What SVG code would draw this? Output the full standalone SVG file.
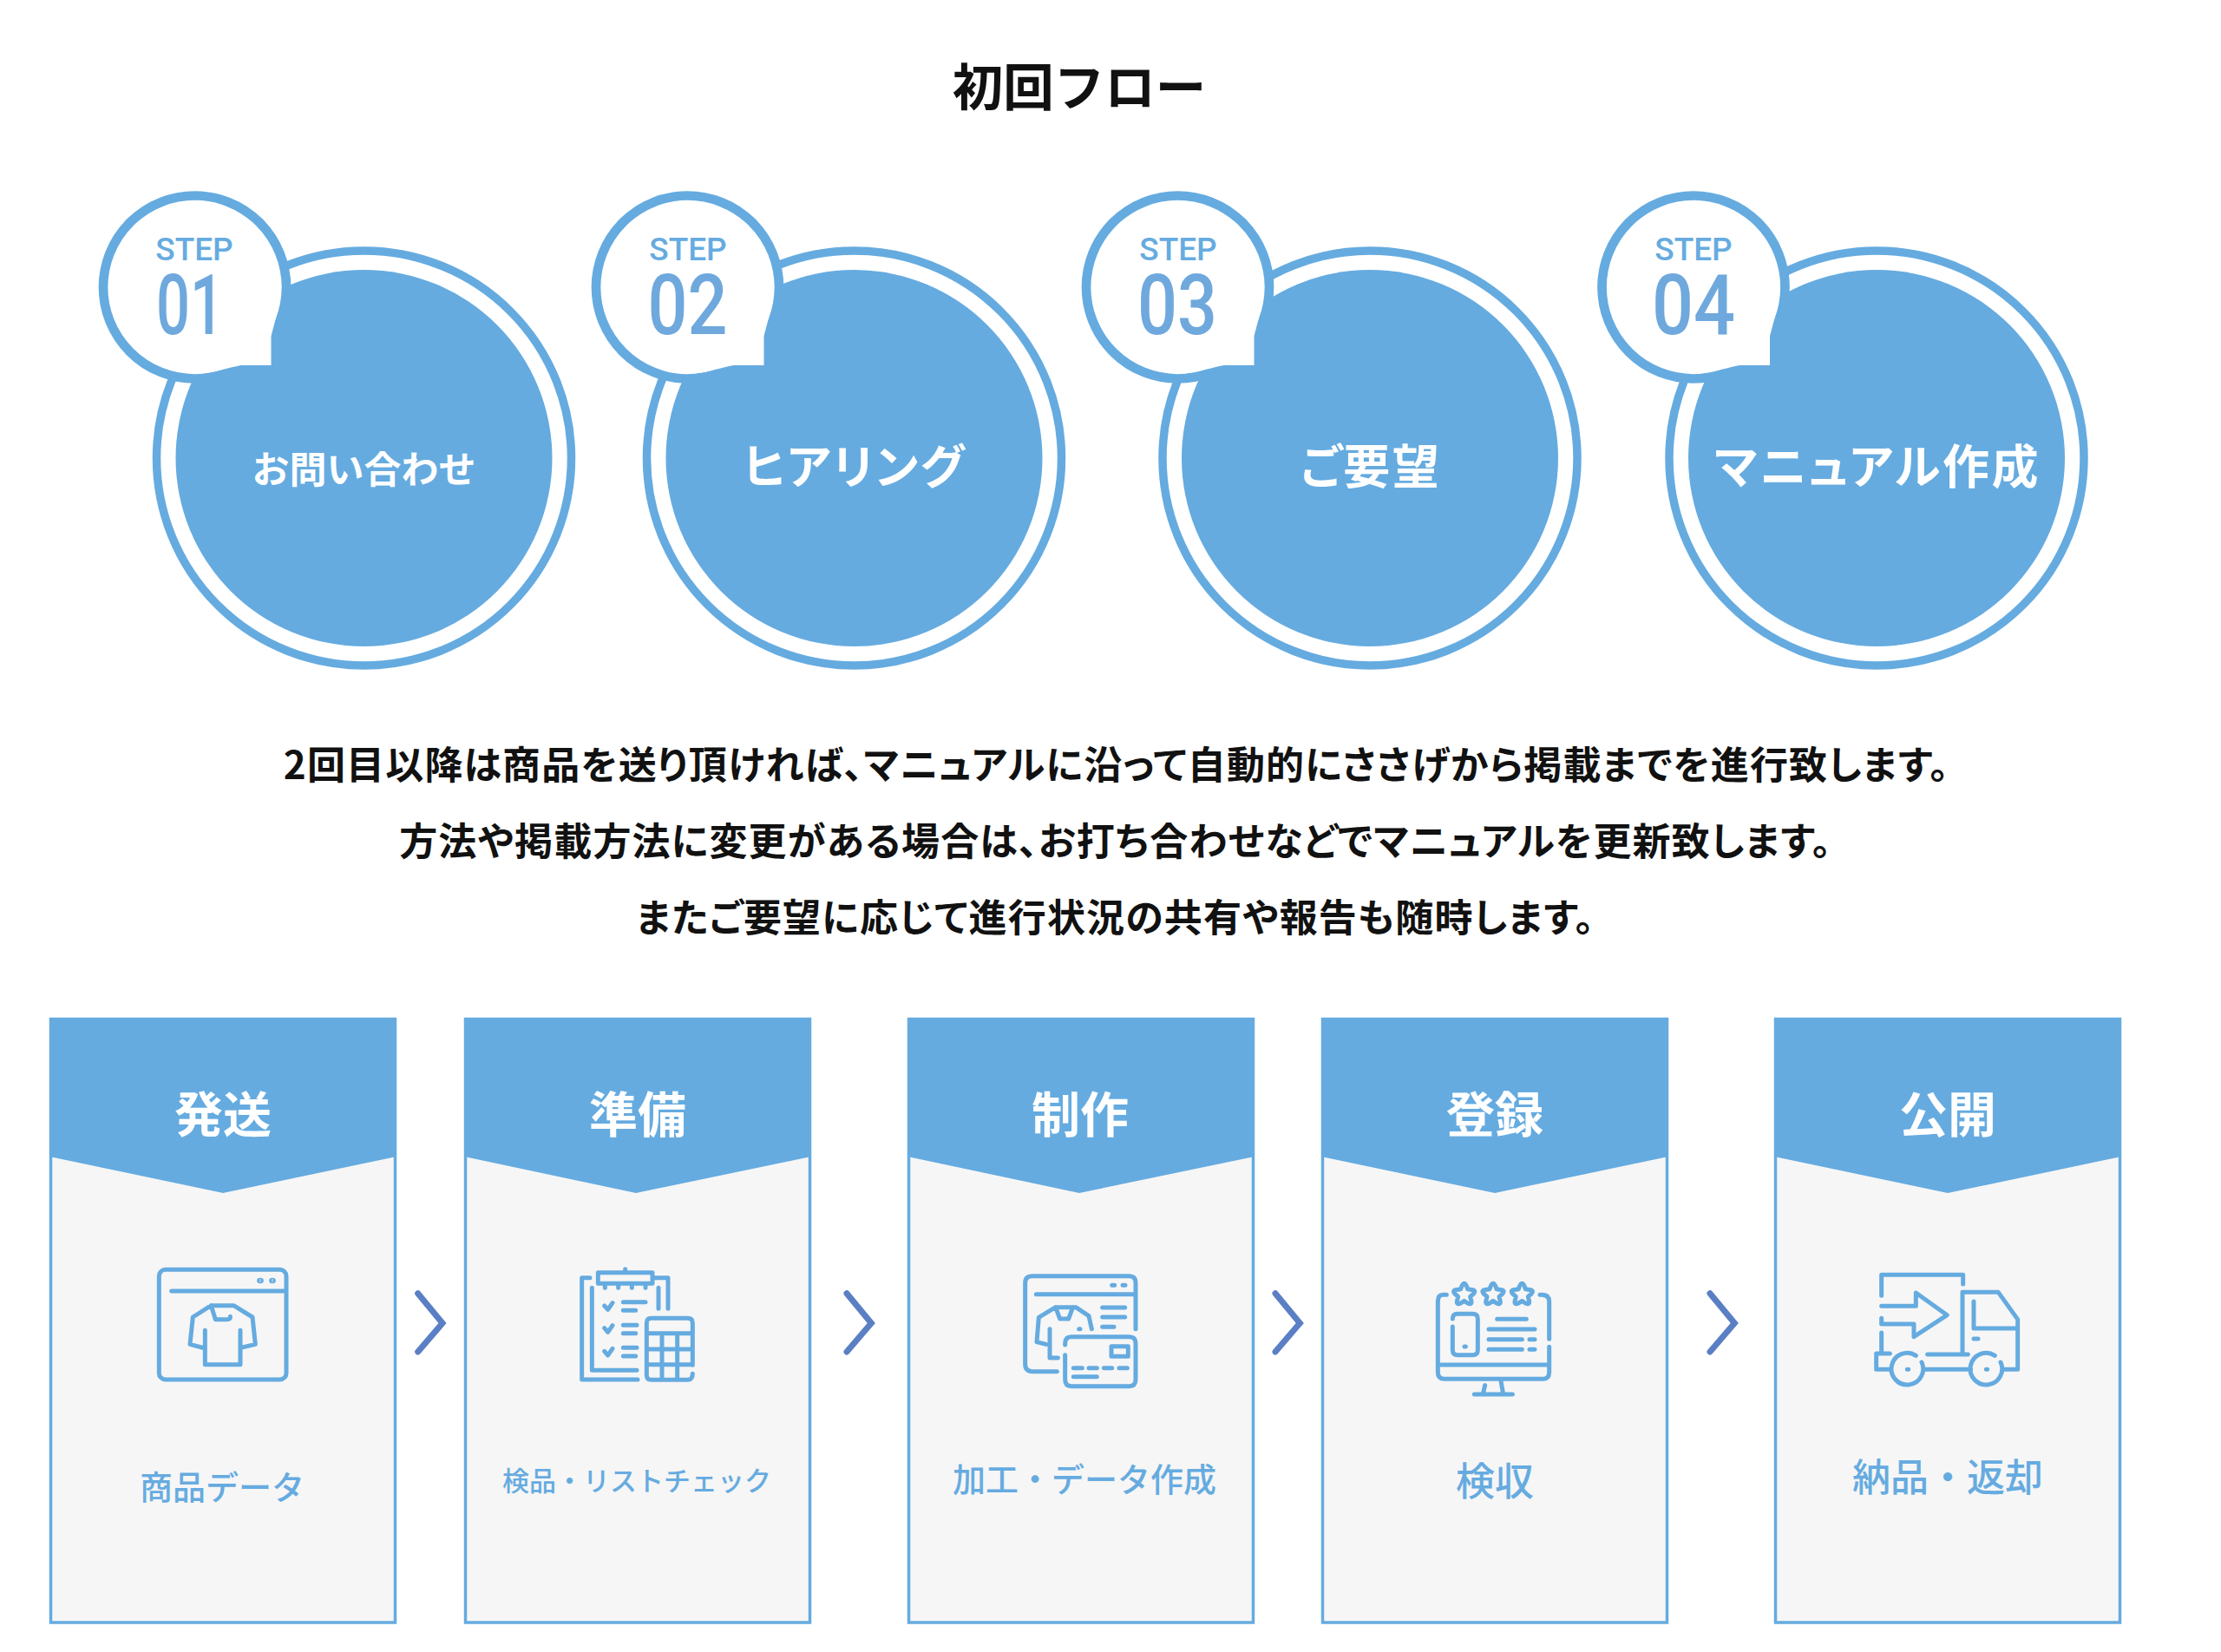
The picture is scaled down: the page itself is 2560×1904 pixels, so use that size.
<svg xmlns="http://www.w3.org/2000/svg" width="2560" height="1904" viewBox="0 0 2560 1904">
<style>
text{font-family:"Noto Sans CJK JP","Noto Sans",sans-serif;text-anchor:middle}
.title{font-size:58.5px;font-weight:700;fill:#111}
.para{font-size:44px;font-weight:700;fill:#111;letter-spacing:1.15px;font-feature-settings:"palt"}
.lab{fill:#fff;font-weight:700}
.kana{font-feature-settings:"palt";letter-spacing:2.5px}
.head{fill:#fff;font-size:56px;font-weight:700}
.sub{fill:#66abe0;font-weight:500}
.step{font-family:Roboto,sans-serif;font-size:37px;font-weight:500;fill:#66abe0}
.num{font-family:Roboto,sans-serif;font-size:97px;fill:#6fa8dc;font-weight:500}
.disc{fill:#65abe0}
.bub{fill:#fff;stroke:#65abe0;stroke-width:10.7}
.tail{fill:#fff}
.card{fill:#f6f6f6;stroke:#65abe0;stroke-width:3.5}
.ban{fill:#65abe0}
.ic{fill:none;stroke:#65abe0;stroke-width:15;stroke-linecap:round;stroke-linejoin:round}
.dot{fill:#65abe0}
.chev{fill:none;stroke:#5b7fc4;stroke-width:7;stroke-linecap:round;stroke-linejoin:miter}
</style>
<defs>
<g id="bubble">
<circle class="bub" r="105.5"/>
<path class="tail" d="M99.8 -2C99 20 92 40 88 56.5V90H53C30 95 15 100 -2 100L-30 60L40 -40Z"/>
</g>
<g id="star"><path d="M0 -34C5 -34 7 -28 10 -21L12 -15L30 -12C38 -10 38 -4 33 1L21 11L25 28C26 36 20 38 14 35L0 26L-14 35C-20 38 -26 36 -25 28L-21 11L-33 1C-38 -4 -38 -10 -30 -12L-12 -15L-10 -21C-7 -28 -5 -34 0 -34Z"/></g>
</defs>
<text class="title" x="1244" y="122">初回フロー</text>

<g id="step1"><circle class="disc" cx="419.5" cy="528" r="217"/><circle cx="419.5" cy="528" r="239" fill="none" stroke="#65abe0" stroke-width="9.5"/>
<use href="#bubble" x="224.5" y="331"/>
<text class="step" x="224" y="300">STEP</text><text class="num" x="219" y="385" textLength="78" lengthAdjust="spacingAndGlyphs">01</text>
<text class="lab" x="419.5" y="557" font-size="43">お問い合わせ</text></g>

<g id="step2"><circle class="disc" cx="984.5" cy="528" r="217"/><circle cx="984.5" cy="528" r="239" fill="none" stroke="#65abe0" stroke-width="9.5"/>
<use href="#bubble" x="792.5" y="331"/>
<text class="step" x="793" y="300">STEP</text><text class="num" x="792.5" y="385" textLength="92" lengthAdjust="spacingAndGlyphs">02</text>
<text class="lab kana" x="985.5" y="558" font-size="54">ヒアリング</text></g>

<g id="step3"><circle class="disc" cx="1579" cy="528" r="217"/><circle cx="1579" cy="528" r="239" fill="none" stroke="#65abe0" stroke-width="9.5"/>
<use href="#bubble" x="1357.5" y="331"/>
<text class="step" x="1358" y="300">STEP</text><text class="num" x="1357" y="385" textLength="92" lengthAdjust="spacingAndGlyphs">03</text>
<text class="lab kana" x="1580" y="558" font-size="54">ご要望</text></g>

<g id="step4"><circle class="disc" cx="2163" cy="528" r="217"/><circle cx="2163" cy="528" r="239" fill="none" stroke="#65abe0" stroke-width="9.5"/>
<use href="#bubble" x="1952" y="331"/>
<text class="step" x="1952" y="300">STEP</text><text class="num" x="1952" y="385" textLength="96" lengthAdjust="spacingAndGlyphs">04</text>
<text class="lab kana" x="2164" y="558" font-size="54">マニュアル作成</text></g>

<text class="para" x="1287" y="898">2回目以降は商品を送り頂ければ、マニュアルに沿って自動的にささげから掲載までを進行致します。</text>
<text class="para" x="1286" y="986">方法や掲載方法に変更がある場合は、お打ち合わせなどでマニュアルを更新致します。</text>
<text class="para" x="1286" y="1074">またご要望に応じて進行状況の共有や報告も随時します。</text>

<g id="card1"><rect class="card" x="58.5" y="1174.5" width="397" height="695.5"/><path class="ban" d="M57 1175Q57 1173 59 1173H455Q457 1173 457 1175V1333L257 1375L57 1333Z"/>
<text class="head" x="257" y="1305">発送</text>
<g transform="translate(160 1430) scale(.33333)" class="ic"><rect x="70" y="100" width="440" height="380" rx="22"/><path d="M113 174H505M229 310V428H351V310M229 372L177 358L187 264L250 224H328L393 264L403 358L352 370M250 224L265 272H305Q318 272 316 262"/><ellipse class="dot" cx="420" cy="138" rx="4" ry="2"/><ellipse class="dot" cx="462" cy="138" rx="4" ry="2"/></g>
<text class="sub" x="256" y="1728" font-size="38">商品データ</text></g>

<g id="card2"><rect class="card" x="536.5" y="1174.5" width="397" height="695.5"/><path class="ban" d="M535 1175Q535 1173 537 1173H933Q935 1173 935 1175V1333L733 1375L535 1333Z"/>
<text class="head" x="735" y="1305">準備</text>
<g transform="translate(650 1440) scale(.33333)" class="ic"><path d="M90 98H62V450H255M97 133V418H252M315 98H360V205M327 133V205M118 80H306V118H118ZM212 68V78M142 125V133M188 125V133M235 125V133M282 125V133M140 195L152 208L168 185M140 272L152 286L168 263M140 352L152 366L168 343M205 182H282M205 211H248M205 262H252M205 290H248M205 340H252M205 369H248M445 400V255Q445 238 428 238H302Q286 238 286 255V435Q286 451 302 451H428Q445 451 445 430M286 290H445M286 345H445M286 398H445M339 290V451M392 290V451"/></g>
<text class="sub" x="734" y="1718" font-size="31">検品・リストチェック</text></g>

<g id="card3"><rect class="card" x="1047.5" y="1174.5" width="397" height="695.5"/><path class="ban" d="M1046 1175Q1046 1173 1048 1173H1444Q1446 1173 1446 1175V1333L1244 1375L1046 1333Z"/>
<text class="head" x="1245" y="1305">制作</text>
<g transform="translate(1160 1450) scale(.33333)" class="ic"><path d="M175 392H90Q65 392 65 367V85Q65 62 90 62H425Q447 62 447 85V245M103 125H447M150 245V345H178M105 290L137 298M105 290L112 205L170 170H240L285 200L295 245M170 170L185 210H215L230 170M332 171H410M332 204H410M332 238H372M203 335V420Q203 443 225 443H425Q447 443 447 420V295Q447 272 425 272H225Q203 272 203 295V300M363 305H421V340H363ZM232 380H262M285 380H313M337 380H365M390 380H418M232 410H313M365 94H374M402 94H411M251 245H255"/></g>
<text class="sub" x="1250" y="1719" font-size="38">加工・データ作成</text></g>

<g id="card4"><rect class="card" x="1524.5" y="1174.5" width="397" height="695.5"/><path class="ban" d="M1523 1175Q1523 1173 1525 1173H1921Q1923 1173 1923 1175V1333L1723 1375L1523 1333Z"/>
<text class="head" x="1723" y="1305">登録</text>
<g transform="translate(1640 1450) scale(.33333)" class="ic"><path d="M82 127H70Q52 127 52 150V395Q52 418 75 418H415Q437 418 437 395V307M437 280V150Q437 127 410 127H405M52 369H437M215 440L208 470M270 425L278 470M178 471H310M103 237V318Q103 335 120 335H172Q190 335 190 318V210Q190 193 172 193H120Q103 193 103 210M257 211H358M228 246H387M228 281H343M369 281H387M228 316H343M369 316H387M144 306H148"/><use href="#star" x="143" y="122"/><use href="#star" x="243" y="122"/><use href="#star" x="343" y="122"/></g>
<text class="sub" x="1723" y="1724" font-size="45">検収</text></g>

<g id="card5"><rect class="card" x="2046.5" y="1174.5" width="397" height="695.5"/><path class="ban" d="M2045 1175Q2045 1173 2047 1173H2443Q2445 1173 2445 1175V1333L2245 1375L2045 1333Z"/>
<text class="head" x="2245" y="1305">公開</text>
<g transform="translate(2150 1450) scale(.33333)" class="ic"><path d="M338 90V58H56V130M56 258V330M38 330H85M38 330V385H90M215 333H355M336 333V118H460L527 212V385H480M200 385H365M375 150V243H527M375 279H390M56 166H175V120L283 197L168 272V228H56V208M195 360A55 55 0 1 1 175 337M468 360A55 55 0 1 1 448 337M145 385H149M418 385H422"/></g>
<text class="sub" x="2245" y="1719" font-size="44">納品・返却</text></g>

<g id="connectors">
<path class="chev" d="M481.7 1490.7L510 1525L481.7 1558"/>
<path class="chev" d="M976 1490.7L1004.3 1525L976 1558"/>
<path class="chev" d="M1470 1490.7L1498.3 1525L1470 1558"/>
<path class="chev" d="M1971 1490.7L1999.3 1525L1971 1558"/>
</g>
</svg>
